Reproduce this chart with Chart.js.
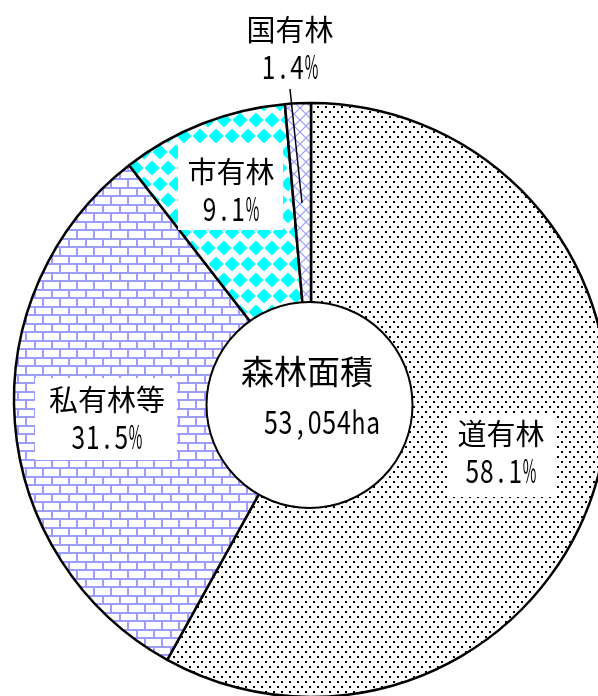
<!DOCTYPE html>
<html>
<head>
<meta charset="utf-8">
<script src="https://cdn.jsdelivr.net/npm/chart.js@4/dist/chart.umd.min.js"></script>
<style>
  html, body { margin:0; padding:0; background:#fff; width:598px; height:696px; overflow:hidden; }
  #c { display:block; }
</style>
</head>
<body>
<canvas id="c" width="598" height="696"></canvas>
<script>
// ---- data ----
const categories = ['道有林', '私有林等', '市有林', '国有林'];
const shares = [58.1, 31.5, 9.1, 1.4];
const centerTitle = '森林面積';
const centerValue = '53,054ha';

// ---- patterns ----
function makeTile(w, h, draw) {
  const t = document.createElement('canvas');
  t.width = w; t.height = h;
  const g = t.getContext('2d');
  g.fillStyle = '#fff'; g.fillRect(0, 0, w, h);
  draw(g);
  return document.getElementById('c').getContext('2d').createPattern(t, 'repeat');
}
const dotPattern = makeTile(8, 10, g => {
  g.fillStyle = '#000';
  g.fillRect(1, 1, 2, 2);
  g.fillRect(5, 6, 2, 2);
});
const brickPattern = makeTile(17, 17, g => {
  g.fillStyle = '#9d9dff';
  g.fillRect(0, 0, 17, 2);
  g.fillRect(0, 8, 17, 2);
  g.fillRect(0, 0, 2, 8);
  g.fillRect(8, 8, 2, 9);
});
const diamondPattern = makeTile(16, 32, g => {
  g.fillStyle = '#00ffff';
  function dia(x, y) {
    g.beginPath();
    g.moveTo(x - 7.5, y); g.lineTo(x, y - 7.5); g.lineTo(x + 7.5, y); g.lineTo(x, y + 7.5);
    g.closePath(); g.fill();
  }
  dia(8, 8); dia(0, 24); dia(16, 24);
});
const crossPattern = makeTile(12, 12, g => {
  g.strokeStyle = '#9999ff';
  g.lineWidth = 1.2;
  g.beginPath();
  g.moveTo(0, 0); g.lineTo(12, 12);
  g.moveTo(12, 0); g.lineTo(0, 12);
  g.stroke();
});
const fills = [dotPattern, brickPattern, diamondPattern, crossPattern];

// ---- text helpers ----
const JP = '"Noto Sans CJK JP", "Noto Sans CJK SC", sans-serif';
function drawKanji(ctx, s, x, y, px) {
  ctx.font = px + 'px ' + JP;
  ctx.textAlign = 'center';
  ctx.textBaseline = 'middle';
  ctx.fillStyle = '#000';
  ctx.fillText(s, x, y);
}
function drawMono(ctx, s, x, y, cell, px, sx) {
  ctx.font = px + 'px ' + JP;
  ctx.textAlign = 'center';
  ctx.textBaseline = 'middle';
  ctx.fillStyle = '#000';
  const n = s.length;
  const x0 = x - n * cell / 2;
  for (let i = 0; i < n; i++) {
    const ch = s[i];
    const w = ctx.measureText(ch).width;
    const sc = Math.min(sx, (cell * 0.95) / w);
    ctx.save();
    ctx.translate(x0 + cell * (i + 0.5), y);
    ctx.scale(sc, 1);
    ctx.fillText(ch, 0, 0);
    ctx.restore();
  }
}

// label layout relative to pie centre (offsets only, not data)
const labelLayout = [
  { dx: 190, dy: 34, box: [137, 15, 109, 82] },
  { dx: -204, dy: 0, box: [-276, -22, 142, 82] },
  { dx: -80, dy: -228, box: [-133, -257, 105, 87] },
  { dx: -21, dy: -370, box: null },
];

const overlay = {
  id: 'overlay',
  afterDatasetsDraw(chart) {
    const ctx = chart.ctx;
    const arc = chart.getDatasetMeta(0).data[0];
    const cx = arc.x, cy = arc.y;
    ctx.save();
    // leader line for smallest slice
    ctx.strokeStyle = '#000';
    ctx.lineWidth = 1.5;
    ctx.beginPath();
    ctx.moveTo(cx - 21, cy - 311);
    ctx.lineTo(cx - 9, cy - 197);
    ctx.stroke();
    // inner circle
    ctx.beginPath();
    ctx.arc(cx - 1.5, cy + 5, 103, 0, Math.PI * 2);
    ctx.fillStyle = '#fff';
    ctx.fill();
    ctx.lineWidth = 2;
    ctx.strokeStyle = '#000';
    ctx.stroke();
    drawKanji(ctx, centerTitle, cx - 4, cy - 29, 33);
    drawMono(ctx, centerValue, cx + 11, cy + 22, 14.6, 32, 0.78);
    // labels
    categories.forEach((name, i) => {
      const L = labelLayout[i];
      if (L.box) {
        ctx.fillStyle = '#fff';
        ctx.fillRect(cx + L.box[0], cy + L.box[1], L.box[2], L.box[3]);
      }
      drawKanji(ctx, name, cx + L.dx, cy + L.dy, 29);
      drawMono(ctx, shares[i].toFixed(1) + '%', cx + L.dx, cy + L.dy + 37, 14.3, 32, 0.78);
    });
    ctx.restore();
  }
};

new Chart(document.getElementById('c'), {
  type: 'pie',
  data: {
    labels: categories,
    datasets: [{
      data: shares,
      backgroundColor: fills,
      borderColor: '#000',
      borderWidth: 2.5,
      hoverBorderWidth: 2.5,
      radius: 297,
    }]
  },
  options: {
    responsive: false,
    animation: false,
    devicePixelRatio: 1,
    rotation: 0,
    layout: { padding: { left: 24, right: 0, top: 104, bottom: 0 } },
    plugins: { legend: { display: false }, tooltip: { enabled: false } },
    events: [],
  },
  plugins: [overlay]
});
</script>
</body>
</html>
